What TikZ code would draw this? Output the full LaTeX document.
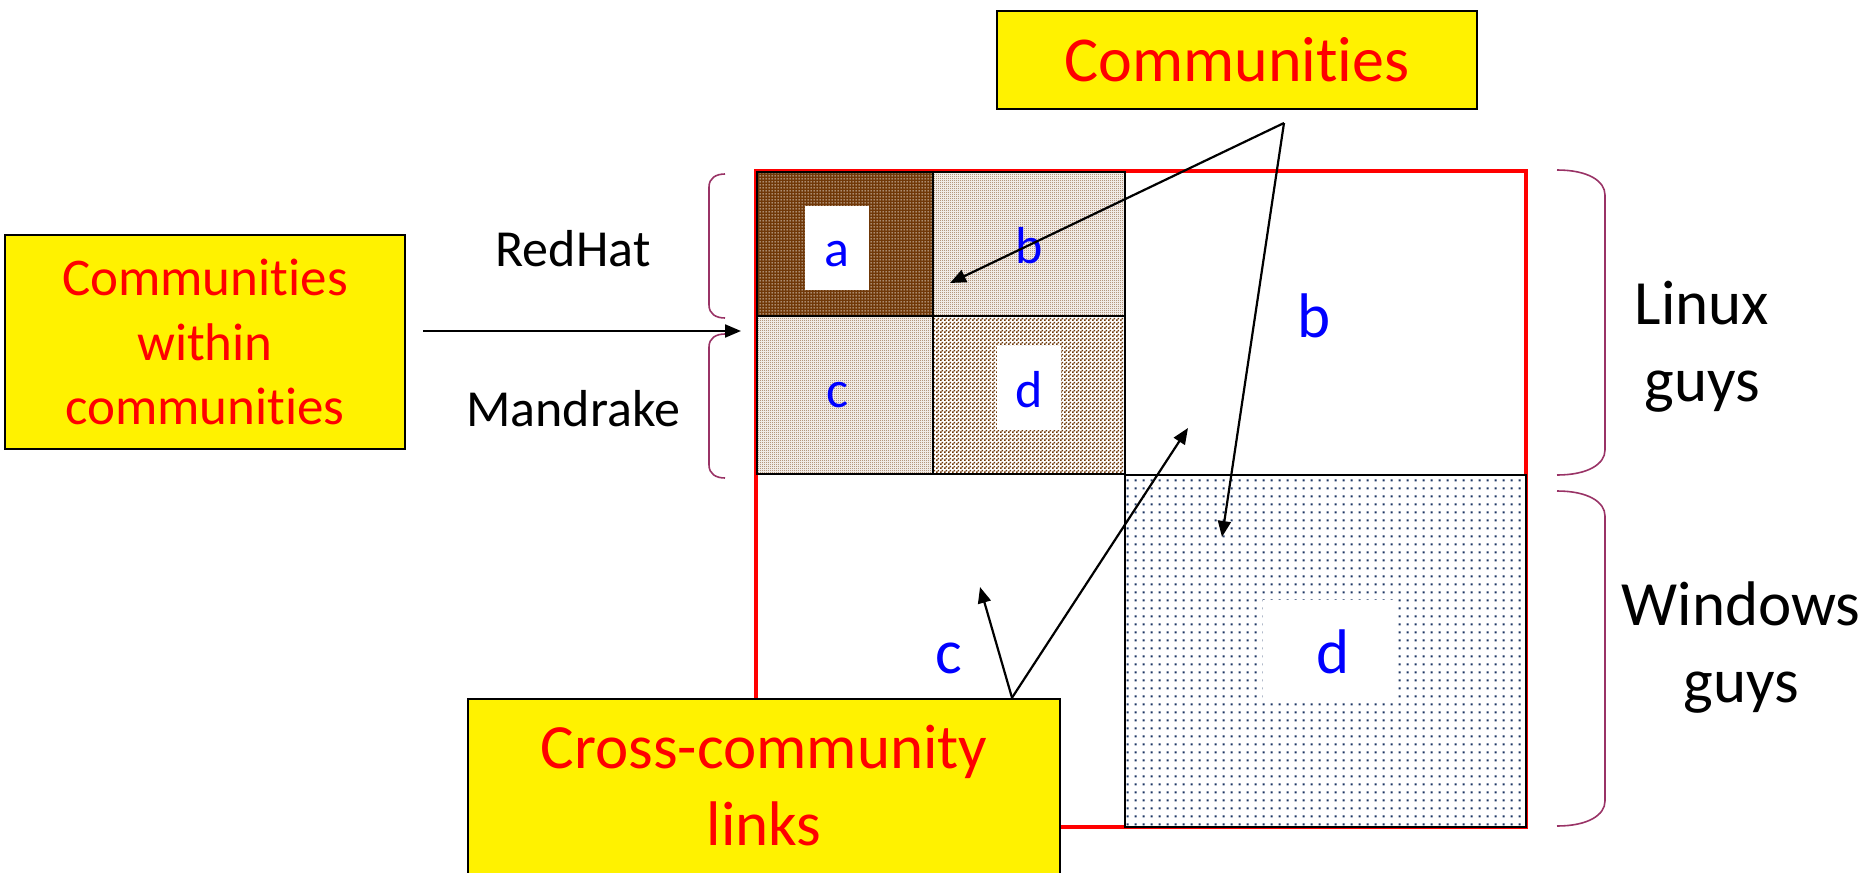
\documentclass[tikz,border=0pt]{standalone}
\usepackage{fontspec}
\setmainfont{Carlito}[Ligatures={NoCommon,NoContextual,NoRequired,NoRare}]
\usetikzlibrary{arrows.meta,patterns}

\pgfdeclarepatternformonly{chkfine}{\pgfpointorigin}{\pgfqpoint{1pt}{1pt}}{\pgfqpoint{1pt}{1pt}}{%
  \pgfpathrectangle{\pgfpointorigin}{\pgfqpoint{0.5pt}{0.5pt}}%
  \pgfpathrectangle{\pgfqpoint{0.5pt}{0.5pt}}{\pgfqpoint{0.5pt}{0.5pt}}%
  \pgfusepath{fill}}
\pgfdeclarepatternformonly{chkcoarse}{\pgfpointorigin}{\pgfqpoint{2pt}{2pt}}{\pgfqpoint{2pt}{2pt}}{%
  \pgfpathrectangle{\pgfpointorigin}{\pgfqpoint{1pt}{1pt}}%
  \pgfpathrectangle{\pgfqpoint{1pt}{1pt}}{\pgfqpoint{1pt}{1pt}}%
  \pgfusepath{fill}}
\pgfdeclarepatternformonly{dotsA}{\pgfpointorigin}{\pgfqpoint{1.5pt}{1.5pt}}{\pgfqpoint{1.5pt}{1.5pt}}{%
  \pgfpathrectangle{\pgfqpoint{0.375pt}{0.375pt}}{\pgfqpoint{0.75pt}{0.75pt}}%
  \pgfusepath{fill}}
\pgfdeclarepatternformonly{dotsW}{\pgfpointorigin}{\pgfqpoint{3.8pt}{3.8pt}}{\pgfqpoint{3.8pt}{3.8pt}}{%
  \pgfpathrectangle{\pgfqpoint{1.4pt}{1.4pt}}{\pgfqpoint{1pt}{1pt}}%
  \pgfusepath{fill}}

\definecolor{brA}{RGB}{112,56,8}
\definecolor{brB}{RGB}{140,95,55}
\definecolor{brD}{RGB}{110,55,8}
\definecolor{navyW}{RGB}{30,55,100}
\definecolor{braceC}{RGB}{153,51,102}
\definecolor{blueL}{RGB}{0,0,255}

\newcommand{\nolig}{\kern0pt}

\tikzset{
  ybox/.style={draw=black, line width=1.25pt, fill=yellow, text=red, inner sep=0pt, align=center},
  blkline/.style={draw=black, line width=1pt},
  lbl/.style={text=blueL, inner sep=0pt, anchor=base},
  smallfont/.style={font=\fontsize{26}{31}\selectfont},
  bigfont/.style={font=\fontsize{31.5}{38.5}\selectfont},
  plain/.style={text=black, inner sep=0pt, align=center},
  arr/.style={draw=black, line width=1.1pt, -{Triangle[length=8pt,width=6.5pt]}},
  bracket/.style={draw=braceC, line width=0.8pt},
}

\begin{document}
\begin{tikzpicture}[x=0.5pt,y=-0.5pt]
\useasboundingbox (0,0) rectangle (1865,873);
\clip (0,0) rectangle (1865,873);

% outer red square
\draw[red, line width=2.25pt] (756,171) rectangle (1526,827);

% block a
\fill[brA] (757,172) rectangle (933,316);
\path[pattern=dotsA, pattern color=white] (757,172) rectangle (933,316);
% block b
\fill[white] (933,172) rectangle (1125,316);
\path[pattern=chkfine, pattern color=brB] (933,172) rectangle (1125,316);
% block c
\fill[white] (757,316) rectangle (933,474);
\path[pattern=chkfine, pattern color=brB] (757,316) rectangle (933,474);
% block d
\fill[white] (933,316) rectangle (1125,474);
\path[pattern=chkcoarse, pattern color=brD] (933,316) rectangle (1125,474);
% windows block
\fill[white] (1125,475) rectangle (1526,827);
\path[pattern=dotsW, pattern color=navyW] (1125,475) rectangle (1526,827);

% outlines
\draw[blkline] (757,172) rectangle (933,316);
\draw[blkline] (933,172) rectangle (1125,316);
\draw[blkline] (757,316) rectangle (933,474);
\draw[blkline] (933,316) rectangle (1125,474);
\draw[blkline] (1125,475) rectangle (1526,827);

% white label patches
\fill[white] (805,206) rectangle (869,290);
\fill[white] (997,346) rectangle (1061,430);
\fill[white] (1263,600) rectangle (1395,698);

% blue labels
\node[lbl, smallfont] (la) at (837,266) {a};
\node[lbl, smallfont] (lb) at (1029,263) {b};
\node[lbl, smallfont] (lc) at (837,407) {c};
\node[lbl, smallfont] (ld) at (1029,407) {d};
\node[lbl, bigfont] (lbb) at (1314,337) {b};
\node[lbl, bigfont] (lcc) at (949,673) {c};
\node[lbl, bigfont] (ldd) at (1333,673) {d};

% side labels
\node[plain, smallfont, anchor=base] (redhat) at (573,266) {RedHat};
\node[plain, smallfont, anchor=base] (mandrake) at (573,426) {Mandrake};
\node[plain, bigfont] (linux) at (1702,347) {Linux\\guys};
\node[plain, bigfont] (windows) at (1741,648) {Windows\\guys};

% left brackets
\draw[bracket] (725,174) .. controls (716,174) and (709,178) .. (709,187)
  -- (709,305) .. controls (709,314) and (716,318) .. (725,318);
\draw[bracket] (725,334) .. controls (716,334) and (709,338) .. (709,347)
  -- (709,465) .. controls (709,474) and (716,478) .. (725,478);
% right brackets
\draw[bracket] (1557,170) .. controls (1588,170) and (1605,181) .. (1605,195)
  -- (1605,450) .. controls (1605,464) and (1588,475) .. (1557,475);
\draw[bracket] (1557,491) .. controls (1588,491) and (1605,502) .. (1605,516)
  -- (1605,801) .. controls (1605,815) and (1588,826) .. (1557,826);

% yellow boxes
\node[ybox, minimum width=240pt, minimum height=49pt, font=\fontsize{32}{38}\selectfont] (comm) at (1237,60) {Communit\nolig ies};
\node[ybox, minimum width=200pt, minimum height=107pt, font=\fontsize{26.5}{32.25}\selectfont] (ccw) at (205,342) {Communit\nolig ies\\within\\communit\nolig ies};
\node[ybox, minimum width=296pt, minimum height=100pt, bigfont] (cross) at (764,799) {Cross-community\\links\rule[-14pt]{0pt}{0pt}};

% connectors
\coordinate (tipRM) at (741,331);
\draw[arr, shorten <=8.5pt] (ccw.east |- tipRM) -- (tipRM);

\coordinate (capex) at (1284,123);
\coordinate (tipB) at (950,283);
\coordinate (tipD) at (1222,537);
\draw[arr] (capex) -- (tipB);
\draw[arr] (capex) -- (tipD);

\coordinate (xapex) at (cross.north -| 1012,0);
\coordinate (tipC) at (980,587);
\coordinate (tipBB) at (1188,428);
\draw[arr] (xapex) -- (tipC);
\draw[arr] (xapex) -- (tipBB);
\end{tikzpicture}
\end{document}
